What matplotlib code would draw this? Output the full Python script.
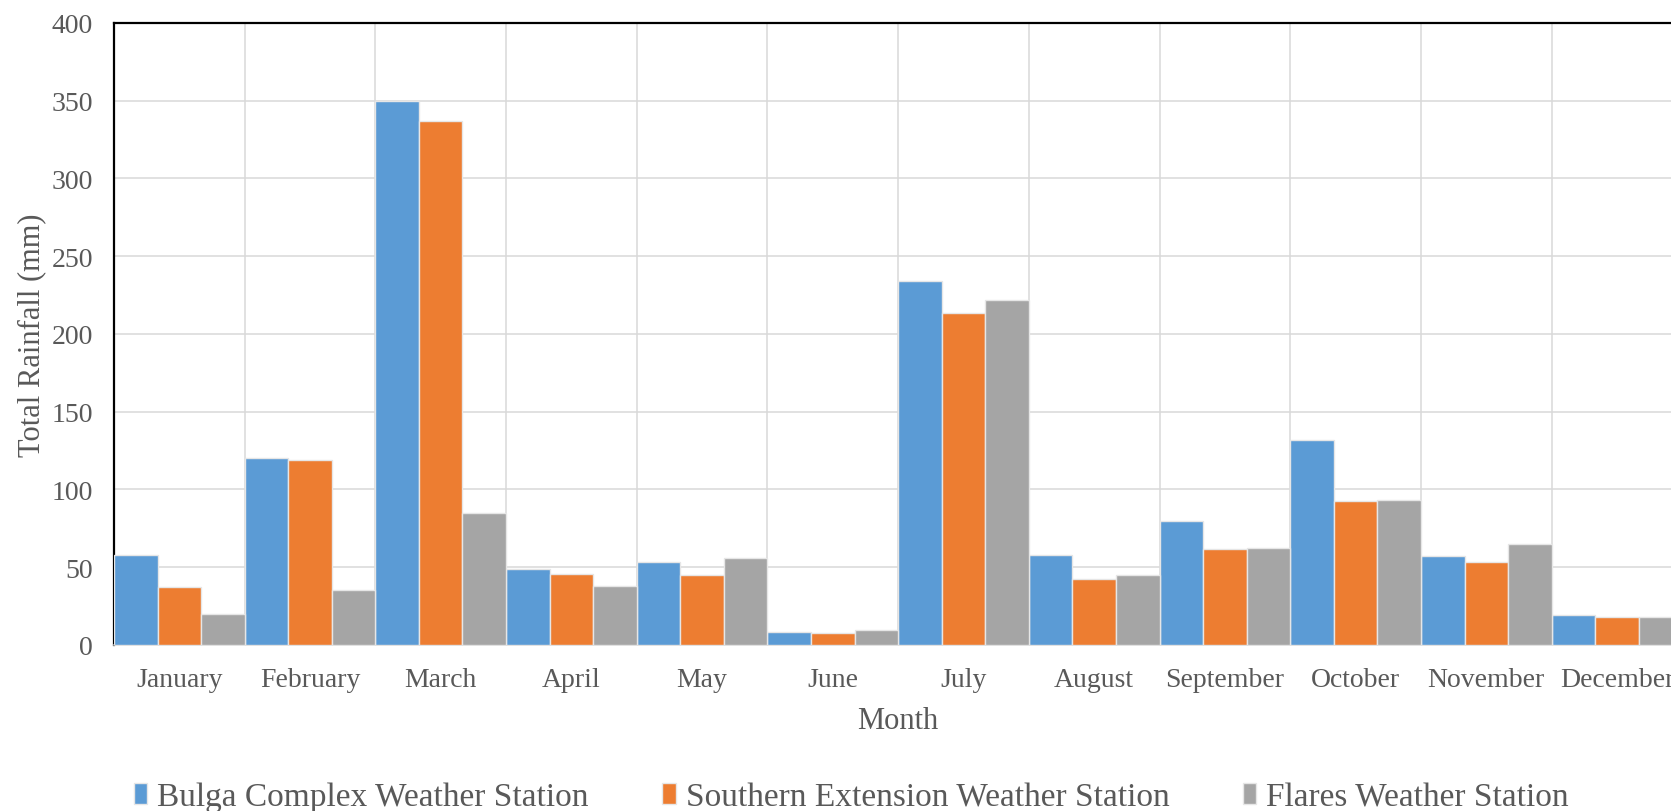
import numpy as np
import matplotlib
matplotlib.use('Agg')
import matplotlib.pyplot as plt
from matplotlib.patches import Patch

plt.rcParams['font.family'] = ['Liberation Serif', 'DejaVu Serif']

months = ['January', 'February', 'March', 'April', 'May', 'June', 'July',
          'August', 'September', 'October', 'November', 'December']
stations = ['Bulga Complex Weather Station', 'Southern Extension Weather Station',
            'Flares Weather Station']

# monthly totals in mm, one list per station
bulga = [58, 120, 350, 49, 53, 8.5, 234, 58, 79.5, 132, 57, 19]
southern = [37, 119, 337, 45.5, 45, 7.7, 213.5, 42, 61.5, 92.5, 53, 17.7]
flares = [20, 35, 85, 38, 56, 9.8, 222, 45, 62.5, 93, 64.7, 17.7]

colors = ['#5B9BD5', '#ED7D31', '#A5A5A5']
text_col = '#595959'
grid_col = '#D9D9D9'

fig = plt.figure(figsize=(16.71, 8.12), dpi=100)
# plot area runs past the right edge of the figure, so December is cut
ax = fig.add_axes([0.0682, 0.2047, 0.9386, 0.766])

x = np.arange(len(months))
w = 1 / 3
for i, (vals, c) in enumerate(zip([bulga, southern, flares], colors)):
    ax.bar(x + (i - 1) * w, vals, width=w, color=c, edgecolor='#E6E6E6',
           linewidth=1.0, zorder=3)

ax.set_xlim(-0.5, 11.5)
ax.set_ylim(0, 400)
ax.set_yticks(np.arange(0, 401, 50))
ax.set_xticks(x)
ax.set_xticklabels(months)
ax.set_xticks(np.arange(-0.5, 12, 1), minor=True)

ax.set_axisbelow(True)
ax.grid(axis='y', which='major', color=grid_col, linewidth=1.1)
ax.grid(axis='x', which='minor', color=grid_col, linewidth=1.1)

ax.tick_params(axis='both', which='both', length=0, labelsize=20, labelcolor=text_col)
ax.tick_params(axis='x', pad=16)
ax.tick_params(axis='y', pad=15)

for s in ['left', 'top']:
    ax.spines[s].set_color('black')
    ax.spines[s].set_linewidth(1.6)
ax.spines['bottom'].set_color(grid_col)
ax.spines['bottom'].set_linewidth(1.1)
ax.spines['right'].set_visible(False)

ax.set_xlabel('Month', fontsize=22, color=text_col, labelpad=10)
ax.set_ylabel('Total Rainfall (mm)', fontsize=22, color=text_col, labelpad=4)

handles = [Patch(facecolor=c, edgecolor='#E6E6E6') for c in colors]
fig.legend(handles, stations, loc='center left', bbox_to_anchor=(134 / 1671, 14 / 812),
           ncol=3, frameon=False, fontsize=24, labelcolor=text_col,
           handlelength=0.4, handleheight=0.6, handletextpad=0.3,
           columnspacing=2.2, borderpad=0, borderaxespad=0)

fig.savefig('out.png', dpi=100)
